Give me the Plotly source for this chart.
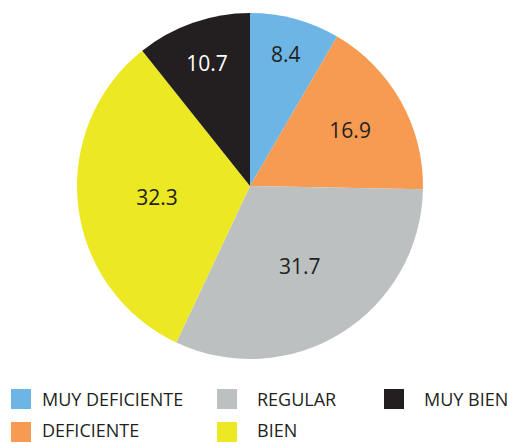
import plotly.graph_objects as go

labels = ["MUY DEFICIENTE", "DEFICIENTE", "REGULAR", "BIEN", "MUY BIEN"]
values = [8.4, 16.9, 31.7, 32.3, 10.7]
colors = ["#6cb5e4", "#f79a52", "#bdc0c1", "#ece823", "#231f20"]
text_colors = ["#231f20", "#231f20", "#231f20", "#231f20", "#ffffff"]

W, H = 507, 443
FONT = "Open Sans, Noto Sans, sans-serif"

fig = go.Figure()
fig.add_trace(go.Pie(
    labels=labels,
    values=values,
    sort=False,
    direction="clockwise",
    rotation=0,
    marker=dict(colors=colors, line=dict(color="white", width=0)),
    textinfo="value",
    texttemplate="%{value:.1f}",
    textposition="inside",
    insidetextorientation="horizontal",
    insidetextfont=dict(family=FONT, size=21, color=text_colors),
    showlegend=False,
    hoverinfo="label+value",
    domain=dict(x=[77 / W, 423 / W], y=[(H - 359) / H, (H - 13) / H]),
))

# Manual legend, column-major (2 rows)
sq_x = [11, 217, 384]
txt_x = [40, 255, 422]
sq_y = [399, 432]
txt_y = [399, 430]
shapes = []
annotations = []
for i, (lab, col) in enumerate(zip(labels, colors)):
    c, r = i // 2, i % 2
    x0 = sq_x[c]
    shapes.append(dict(type="rect", xref="paper", yref="paper",
                       x0=x0 / W, x1=(x0 + 20) / W,
                       y0=(H - (sq_y[r] + 10)) / H, y1=(H - (sq_y[r] - 10)) / H,
                       fillcolor=col, line=dict(width=0)))
    annotations.append(dict(xref="paper", yref="paper",
                            x=txt_x[c] / W, y=(H - txt_y[r]) / H,
                            xanchor="left", yanchor="middle",
                            text=lab, showarrow=False,
                            font=dict(family=FONT, size=18, color="#231f20")))

fig.update_layout(
    width=W, height=H,
    margin=dict(l=0, r=0, t=0, b=0),
    paper_bgcolor="white",
    plot_bgcolor="white",
    shapes=shapes,
    annotations=annotations,
    font=dict(family=FONT),
)

fig.write_html("out.html", config={"displayModeBar": False},
               post_script="document.body.style.margin='0';document.body.style.overflow='hidden';")
